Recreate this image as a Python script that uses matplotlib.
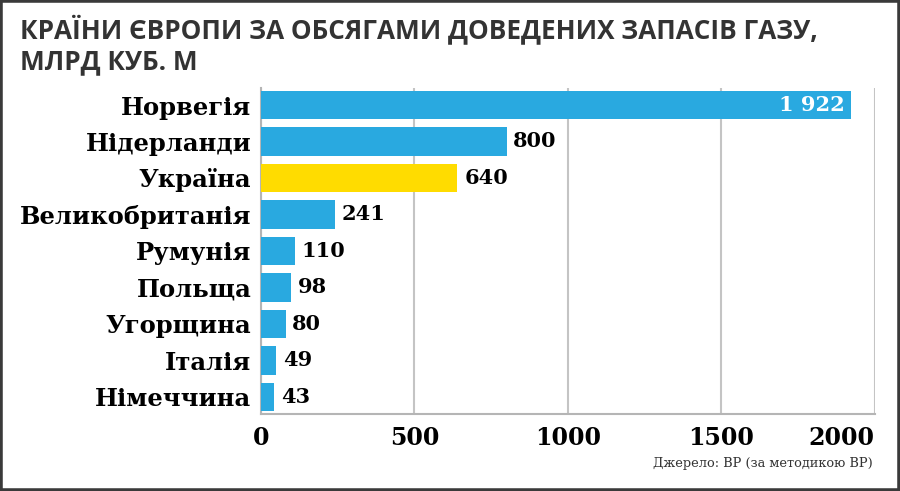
import matplotlib
matplotlib.use("Agg")
import matplotlib.pyplot as plt
from matplotlib.patches import Rectangle

# Дані
країни = ["Норвегія", "Нідерланди", "Україна", "Великобританія", "Румунія",
          "Польща", "Угорщина", "Італія", "Німеччина"]
запаси = [1922, 800, 640, 241, 110, 98, 80, 49, 43]
підписи = ["1 922", "800", "640", "241", "110", "98", "80", "49", "43"]
тіки = [0, 500, 1000, 1500, 2000]

синій = "#29a9e0"
жовтий = "#ffdc00"
кольори = [жовтий if к == "Україна" else синій for к in країни]

fig = plt.figure(figsize=(9, 4.91), dpi=100)
ax = fig.add_axes([0.29, 0.157, 0.682, 0.664])

y = list(range(len(країни)))
ax.barh(y, запаси, height=0.78, color=кольори, zorder=3)
ax.set_ylim(len(країни) - 0.53, -0.47)
ax.set_xlim(0, 2000)

serif = "DejaVu Serif"
ax.set_yticks(y)
ax.set_yticklabels(країни, fontfamily=serif, fontweight="bold", fontsize=17.5)
ax.set_xticks(тіки)
ax.set_xticklabels([str(t) for t in тіки], fontfamily=serif, fontweight="bold", fontsize=17)
ax.get_xticklabels()[-1].set_horizontalalignment("right")
ax.tick_params(axis="y", length=0, pad=7)
ax.tick_params(axis="x", length=0, pad=9)

# Сітка
ax.grid(axis="x", color="#c4c4c4", linewidth=1.5, zorder=0)
for s in ["top", "right"]:
    ax.spines[s].set_visible(False)
for s in ["left", "bottom"]:
    ax.spines[s].set_color("#b5b5b5")
    ax.spines[s].set_linewidth(1.5)

# Підписи значень
for i, (v, t) in enumerate(zip(запаси, підписи)):
    if v > 1500:
        ax.text(v - 20, i, t, ha="right", va="center", color="white",
                fontfamily=serif, fontweight="bold", fontsize=15, zorder=4)
    else:
        ax.text(v + 22, i, t, ha="left", va="center", color="black",
                fontfamily=serif, fontweight="bold", fontsize=15, zorder=4)

# Заголовок
fig.text(0.022, 0.968, "КРАЇНИ ЄВРОПИ ЗА ОБСЯГАМИ ДОВЕДЕНИХ ЗАПАСІВ ГАЗУ,\nМЛРД КУБ. М",
         ha="left", va="top", fontfamily="Open Sans", fontweight="bold",
         fontsize=18.8, color="#333333", linespacing=1.1)

# Джерело
fig.text(0.97, 0.057, "Джерело: BP (за методикою BP)", ha="right", va="center",
         fontfamily=serif, fontsize=9.3, color="#333333")

# Рамка
fig.patches.append(Rectangle((0, 0), 1, 1, transform=fig.transFigure,
                             fill=False, edgecolor="#3a3a3a", linewidth=4))

fig.savefig("out.png", dpi=100)
